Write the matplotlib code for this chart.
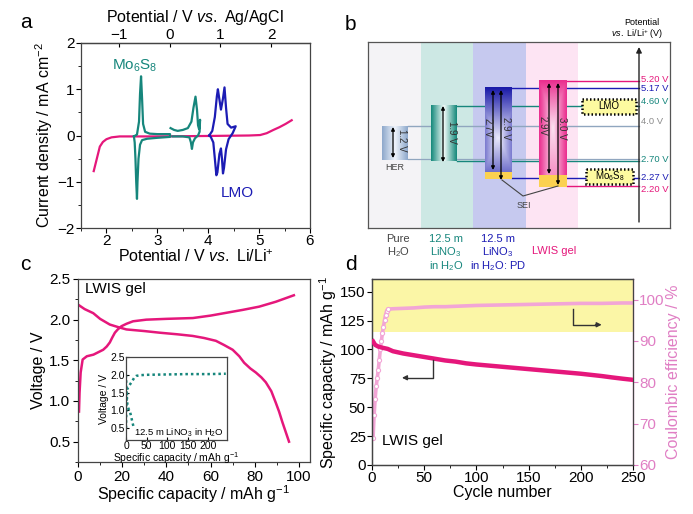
import numpy as np
import matplotlib
matplotlib.use("Agg")
import matplotlib.pyplot as plt
from matplotlib.colors import LinearSegmentedColormap
from matplotlib.patches import Rectangle
from matplotlib.ticker import MultipleLocator, FormatStrFormatter

plt.rcParams["font.family"] = ["Liberation Sans", "DejaVu Sans"]
plt.rcParams["mathtext.fontset"] = "custom"
plt.rcParams["mathtext.rm"] = "Liberation Sans"
plt.rcParams["mathtext.it"] = "Liberation Sans:italic"
plt.rcParams["axes.linewidth"] = 0.9
plt.rcParams["axes.edgecolor"] = "#444444"

PINK = "#e5177b"
TEAL = "#16867c"
BLUE = "#1c1cb4"
CE_PINK = "#f2a6d6"
CE_LABEL = "#e07ec4"
TICK_FS = 11

# ---- panel a: CV curves (V vs Li/Li+, mA cm-2)
pink_v = [1.75, 1.8, 1.87, 1.93, 2.0, 2.1, 2.26, 2.6, 3.0, 4.0, 4.8, 5.02, 5.15, 5.28, 5.4, 5.52, 5.64]
pink_i = [-0.77, -0.55, -0.24, -0.14, -0.08, -0.04, -0.02, -0.02, -0.02, -0.01, 0.0, 0.01, 0.05, 0.12, 0.18, 0.25, 0.33]
mo1_v = [2.54, 2.6, 2.64, 2.66, 2.68, 2.70, 2.72, 2.76, 2.85, 3.0, 3.25,
         3.25, 3.0, 2.8, 2.7, 2.66, 2.63, 2.61, 2.60, 2.585, 2.57, 2.555, 2.54]
mo1_i = [-0.02, 0.02, 0.3, 0.9, 1.28, 0.8, 0.25, 0.08, 0.04, 0.03, 0.03,
         -0.03, -0.05, -0.07, -0.1, -0.2, -0.5, -1.0, -1.37, -1.0, -0.5, -0.15, -0.02]
mo2_v = [3.26, 3.33, 3.40, 3.50, 3.60, 3.67, 3.71, 3.75, 3.78, 3.80, 3.82, 3.84,
         3.83, 3.80, 3.74, 3.70, 3.68, 3.66, 3.63, 3.5, 3.3]
mo2_i = [0.16, 0.12, 0.10, 0.12, 0.16, 0.3, 0.6, 0.84, 0.55, 0.22, 0.14, 0.34,
         0.08, 0.0, -0.06, -0.15, -0.29, -0.15, -0.04, -0.02, -0.02]
lmo_v = [4.02, 4.08, 4.13, 4.17, 4.19, 4.21, 4.25, 4.29, 4.32, 4.35, 4.38, 4.45, 4.54,
         4.54, 4.48, 4.40, 4.35, 4.31, 4.29, 4.27, 4.25, 4.22, 4.18, 4.16, 4.13, 4.10, 4.05, 4.02]
lmo_i = [0.0, 0.1, 0.4, 0.85, 1.0, 0.85, 0.56, 0.8, 1.04, 0.6, 0.25, 0.17, 0.2,
         0.2, 0.05, -0.08, -0.3, -0.7, -0.82, -0.5, -0.28, -0.4, -0.8, -0.86, -0.5, -0.15, -0.03, 0.0]
agcl_offset = 3.24

# ---- panel b: energy diagram
band_edges = [368, 421, 473, 526, 578, 670]
band_colors = ["#f4f3f6", "#cde8e4", "#c6c9ef", "#fde4f3", "#ffffff"]
level_labels = ["5.20 V", "5.17 V", "4.60 V", "4.0 V", "2.70 V", "2.27 V", "2.20 V"]
level_colors = [PINK, BLUE, TEAL, "#8c8c8c", TEAL, BLUE, PINK]
level_line_colors = [PINK, BLUE, TEAL, "#90a6bf", TEAL, BLUE, PINK]
level_y = [81, 88, 106, 126, 161, 178, 186]
level_x0 = [567, 512, 457, 408, 457, 512, 567]
level_text_y = [80, 89, 102, 122, 160, 177, 190]
windows = ["1.2 V", "1.9 V", "2.7V", "2.9 V", "2.9V", "3.0 V"]
electrolytes = ["Pure\nH$_2$O", "12.5 m\nLiNO$_3$\nin H$_2$O", "12.5 m\nLiNO$_3$\nin H$_2$O: PD", "LWIS gel"]

# ---- panel c: charge/discharge
chg_cap = [0.45, 0.7, 1.2, 2.1, 4, 7, 11.4, 13, 14.4, 15.5, 16.7, 18, 19.7, 22, 24.9, 30.9, 40, 52, 60, 74.5, 82, 89.5, 97.7]
chg_v = [0.87, 1.1, 1.35, 1.51, 1.55, 1.57, 1.63, 1.67, 1.72, 1.78, 1.84, 1.88, 1.92, 1.95, 1.98, 2.0, 2.01, 2.02, 2.05, 2.12, 2.16, 2.22, 2.30]
dis_cap = [0.3, 3, 6.9, 10, 14.4, 18, 21.9, 30, 36.9, 45, 51.9, 57, 62.4, 66, 70, 73, 75.2, 78, 80.5, 83, 85, 87.5, 89.5, 91, 92.5, 94, 95.5]
dis_v = [2.18, 2.13, 2.08, 2.01, 1.94, 1.91, 1.88, 1.86, 1.84, 1.82, 1.80, 1.775, 1.74, 1.69, 1.63, 1.55, 1.47, 1.40, 1.35, 1.29, 1.23, 1.12, 0.98, 0.87, 0.74, 0.62, 0.50]
ins_chg_cap = [0, 1, 3, 7, 12, 16, 20, 25, 35, 50, 100, 150, 200, 242]
ins_chg_v = [0.5, 1.2, 1.6, 1.68, 1.77, 1.84, 1.92, 1.97, 1.99, 2.0, 2.01, 2.02, 2.02, 2.03]
ins_dis_cap = [0, 1, 3, 6, 10, 14, 18]
ins_dis_v = [2.0, 1.6, 1.2, 1.05, 0.95, 0.75, 0.55]

# ---- panel d: cycling
cyc = [1, 3, 6, 10, 15, 20, 30, 40, 50, 60, 70, 80, 90, 100, 110, 120, 130, 140, 150,
       160, 170, 180, 190, 200, 210, 220, 230, 240, 250]
capacity = [107, 104, 102.5, 101.5, 100.5, 98.5, 96.5, 95, 93.5, 92, 90.5, 89.5, 88, 87, 86.2,
            85.4, 84.6, 83.8, 83, 82.2, 81.4, 80.6, 79.8, 79, 78, 77, 75.8, 74.7, 73.7]
ce_cyc = [1, 2, 3, 4, 5, 6, 7, 8, 9, 10, 11, 12, 13, 14, 15, 20, 30, 40, 50, 60, 70, 80, 90,
          100, 120, 140, 160, 180, 200, 220, 240, 250]
ce = [66.5, 72, 76, 79, 81, 83, 85.5, 88, 90, 92, 93.5, 95, 96.3, 97.2, 97.7, 97.8, 97.9, 98.0,
      98.2, 98.3, 98.3, 98.4, 98.5, 98.6, 98.7, 98.8, 98.9, 99.0, 99.1, 99.1, 99.2, 99.2]
ce_band = (92.2, 105)

W, H = 693, 514


def rect(x0, y0, x1, y1):
    return [x0 / W, 1 - y1 / H, (x1 - x0) / W, (y1 - y0) / H]


fig = plt.figure(figsize=(W / 100, H / 100), dpi=100)

# ================= a
ax = fig.add_axes(rect(81, 43, 310, 228))
ax.plot(pink_v, pink_i, color=PINK, lw=1.6)
ax.plot(mo1_v, mo1_i, color=TEAL, lw=1.6)
ax.plot(mo2_v, mo2_i, color=TEAL, lw=1.6)
ax.plot(lmo_v, lmo_i, color=BLUE, lw=1.6)
ax.set_xlim(1.5, 6)
ax.set_ylim(-2, 2)
ax.xaxis.set_major_locator(MultipleLocator(1))
ax.xaxis.set_minor_locator(MultipleLocator(0.5))
ax.yaxis.set_major_locator(MultipleLocator(1))
ax.yaxis.set_minor_locator(MultipleLocator(0.5))
ax.tick_params(labelsize=TICK_FS, length=3.5, pad=1)
ax.tick_params(which="minor", length=2)
ax.set_xlabel(r"Potential / V $\it{vs.}$ Li/Li$^{+}$", fontsize=11.5, labelpad=0)
ax.set_ylabel("Current density / mA cm$^{-2}$", fontsize=11.5, labelpad=2)
top = ax.secondary_xaxis("top", functions=(lambda x: x - agcl_offset, lambda x: x + agcl_offset))
top.set_xticks([-1, 0, 1, 2])
top.tick_params(labelsize=TICK_FS, length=3, pad=1, direction="in")
top.set_xlabel(r"Potential / V $\it{vs.}$ Ag/AgCl", fontsize=11.5, labelpad=4)
ax.text(2.1, 1.42, "Mo$_6$S$_8$", color=TEAL, fontsize=11)
ax.text(4.25, -1.32, "LMO", color=BLUE, fontsize=11)

# ================= b
bx = fig.add_axes(rect(368, 42, 670, 228))
bx.set_xticks([])
bx.set_yticks([])
for s in bx.spines.values():
    s.set_color("#555555")
for i, c in enumerate(band_colors):
    bx.axvspan(band_edges[i], band_edges[i + 1], color=c, lw=0, zorder=0)


def grad_box(x0, x1, y0, y1, edge, center="white", mode="h"):
    xs = np.abs(np.linspace(-1, 1, 40))
    ys = np.linspace(0, 1, 60)
    if mode == "h":
        arr = np.tile(xs, (60, 1))
    elif mode == "blue":
        v = np.interp(ys, [0, 0.6, 1], [1.0, 0.05, 0.6])
        arr = np.maximum(v[:, None], 0.55 * xs[None, :])
    else:
        v = np.interp(ys, [0, 0.15, 0.5, 1], [1.0, 0.7, 0.1, 0.5])
        arr = np.maximum(v[:, None], xs[None, :] ** 0.8)
    cmap = LinearSegmentedColormap.from_list("g", [center, edge])
    bx.imshow(arr, cmap=cmap, extent=(x0, x1, y1, y0), aspect="auto",
              vmin=0, vmax=1, zorder=3, interpolation="bilinear")


for lab, col, lcol, y, x0, ty in zip(level_labels, level_colors, level_line_colors,
                                      level_y, level_x0, level_text_y):
    bx.plot([x0, 639], [y, y], color=lcol, lw=1.0, zorder=2)
    bx.text(641, ty, lab, color=col, fontsize=6.8, va="center", ha="left")
bx.plot([408, 639], [159, 159], color="#90a6bf", lw=0.9, zorder=2)

grad_box(382, 408, 126, 160, "#8fa9cc", "#eef3fb")
grad_box(431, 457, 106, 161, "#178a7c", "#f2fbf9")
grad_box(485, 512, 88, 172, "#1a1aa8", "#f4f4ff", mode="blue")
grad_box(539, 567, 81, 175, "#ea2f8f", "#fff3fb", mode="pink")
bx.add_patch(Rectangle((485, 172), 27, 7, facecolor="#fbd150", edgecolor="none", zorder=3))
bx.add_patch(Rectangle((539, 175), 28, 12, facecolor="#fbd150", edgecolor="none", zorder=3))

arrows = [(393, 127, 158), (443, 106, 162), (493, 90, 170), (501, 90, 180), (549, 83, 174), (558, 83, 185)]
text_pos = [(402, 140), (452, 132), (488, 128), (506, 128), (543, 126), (562, 128)]
for (xa, ya, yb), (tx, ty), lab in zip(arrows, text_pos, windows):
    bx.annotate("", xy=(xa, yb), xytext=(xa, ya),
                arrowprops=dict(arrowstyle="<|-|>", color="k", lw=0.9,
                                mutation_scale=5, shrinkA=0, shrinkB=0), zorder=5)
    bx.text(tx, ty, lab, rotation=-90, ha="center", va="center", fontsize=7,
            color="#333333", zorder=6)

bx.text(395, 167, "HER", fontsize=6.5, color="#444444", ha="center", va="center")
bx.plot([502, 523, 558], [180, 196, 186], color="#444444", lw=0.8, zorder=5)
bx.text(524, 205, "SEI", fontsize=6.5, color="#444444", ha="center", va="center")

for (x0, y0, w, h, lab) in [(582, 99, 54, 15, "LMO"), (586, 169, 47, 15, "Mo$_6$S$_8$")]:
    bx.add_patch(Rectangle((x0, y0), w, h, facecolor="#fdfaa0", edgecolor="k",
                           lw=1.8, linestyle=(0, (0.6, 0.9)), zorder=4))
    bx.text(x0 + w / 2, y0 + h / 2, lab, fontsize=7, ha="center", va="center", zorder=5)

bx.annotate("", xy=(639, 47), xytext=(639, 222),
            arrowprops=dict(arrowstyle="-|>", color="#222222", lw=1.0,
                            mutation_scale=8, shrinkA=0, shrinkB=0), zorder=5)
bx.text(642, 23, "Potential", fontsize=6.5, ha="center", va="center", clip_on=False)
bx.text(637, 34, r"$\it{vs.}$ Li/Li$^{+}$ (V)", fontsize=6.5, ha="center", va="center", clip_on=False)

elec_x = [398, 446, 498, 554]
elec_colors = ["#444444", TEAL, BLUE, PINK]
for lab, xe, ce_col in zip(electrolytes, elec_x, elec_colors):
    for k, line in enumerate(lab.split("\n")):
        yy = 251 if lab == "LWIS gel" else 239 + 13.5 * k
        bx.text(xe, yy, line, color=ce_col, fontsize=8, ha="center", va="center", clip_on=False)
bx.set_xlim(368, 670)
bx.set_ylim(228, 42)

# ================= c
cx = fig.add_axes(rect(78, 279, 310, 462))
cx.plot(chg_cap, chg_v, color=PINK, lw=1.8)
cx.plot(dis_cap, dis_v, color=PINK, lw=1.8)
cx.set_xlim(0, 105)
cx.set_ylim(0.25, 2.5)
cx.xaxis.set_major_locator(MultipleLocator(20))
cx.xaxis.set_minor_locator(MultipleLocator(10))
cx.yaxis.set_major_locator(MultipleLocator(0.5))
cx.yaxis.set_minor_locator(MultipleLocator(0.25))
cx.yaxis.set_major_formatter(FormatStrFormatter("%.1f"))
cx.tick_params(labelsize=TICK_FS, length=3.5, pad=2)
cx.tick_params(which="minor", length=2)
cx.set_xlabel("Specific capacity / mAh g$^{-1}$", fontsize=11.5, labelpad=0)
cx.set_ylabel("Voltage / V", fontsize=11.5, labelpad=2)
cx.text(3, 2.33, "LWIS gel", fontsize=11)

ix = fig.add_axes(rect(126, 357, 227, 440))
ix.plot(ins_chg_cap, ins_chg_v, color=TEAL, lw=1.8, ls=(0, (1, 1.2)))
ix.plot(ins_dis_cap, ins_dis_v, color=TEAL, lw=1.8, ls=(0, (1, 1.2)))
ix.set_xlim(0, 245)
ix.set_ylim(0.17, 2.5)
ix.set_xticks([0, 50, 100, 150, 200])
ix.set_yticks([0.5, 1.0, 1.5, 2.0, 2.5])
ix.yaxis.set_major_formatter(FormatStrFormatter("%.1f"))
ix.tick_params(labelsize=7.5, length=2, pad=1, direction="in")
ix.set_xlabel("Specific capacity / mAh g$^{-1}$", fontsize=7.5, labelpad=-1)
ix.set_ylabel("Voltage / V", fontsize=7.5, labelpad=1)
ix.text(238, 0.38, "12.5 m LiNO$_3$ in H$_2$O", fontsize=6.8, ha="right", va="center")

# ================= d
dx = fig.add_axes(rect(372, 279, 633, 465))
dx.plot(cyc, capacity, color=PINK, lw=3.2, zorder=3)
dx.set_xlim(0, 250)
dx.set_ylim(0, 161)
dx.xaxis.set_major_locator(MultipleLocator(50))
dx.xaxis.set_minor_locator(MultipleLocator(25))
dx.yaxis.set_major_locator(MultipleLocator(25))
dx.tick_params(labelsize=TICK_FS, length=3.5, pad=1)
dx.tick_params(which="minor", length=2)
dx.set_xlabel("Cycle number", fontsize=11.5, labelpad=0)
dx.set_ylabel("Specific capacity / mAh g$^{-1}$", fontsize=11.5, labelpad=1)
dx.text(10, 17, "LWIS gel", fontsize=11)
dx.plot([58.4, 58.4, 33], [91, 75.5, 75.5], color="#333333", lw=1.0, zorder=4)
dx.annotate("", xy=(28.7, 75.5), xytext=(34, 75.5),
            arrowprops=dict(arrowstyle="-|>", color="#333333", lw=1.0, mutation_scale=7,
                            shrinkA=0, shrinkB=0), zorder=4)
dx.plot([192.5, 192.5, 215], [135, 121.4, 121.4], color="#333333", lw=1.0, zorder=4)
dx.annotate("", xy=(220, 121.4), xytext=(214, 121.4),
            arrowprops=dict(arrowstyle="-|>", color="#333333", lw=1.0, mutation_scale=7,
                            shrinkA=0, shrinkB=0), zorder=4)

rx = dx.twinx()
rx.axhspan(ce_band[0], ce_band[1], color="#fbf6a6", lw=0, zorder=0)
rx.plot(ce_cyc, ce, color=CE_PINK, lw=2.6, zorder=2)
rx.plot(ce_cyc[:15], ce[:15], ls="none", marker="o", ms=3, mfc="white", mec=CE_PINK,
        mew=0.8, zorder=2)
rx.set_ylim(60, 105)
rx.set_yticks([60, 70, 80, 90, 100])
rx.tick_params(labelsize=TICK_FS, length=3.5, pad=1, colors=CE_LABEL)
rx.spines["right"].set_color(CE_LABEL)
rx.set_ylabel("Coulombic efficiency / %", fontsize=11.5, color=CE_LABEL, labelpad=1)
dx.set_zorder(rx.get_zorder() + 1)
dx.patch.set_visible(False)

fig.text(20 / W, 1 - 23 / H, "a", fontsize=15, va="center")
fig.text(345 / W, 1 - 25 / H, "b", fontsize=15, va="center")
fig.text(20 / W, 1 - 265 / H, "c", fontsize=15, va="center")
fig.text(345 / W, 1 - 265 / H, "d", fontsize=15, va="center")

fig.savefig("out.png", dpi=100)
